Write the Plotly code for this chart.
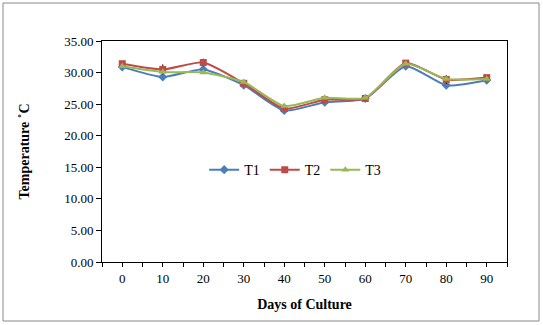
import plotly.graph_objects as go

days = [0, 10, 20, 30, 40, 50, 60, 70, 80, 90]
t1 = [30.9, 29.3, 30.5, 28.0, 24.0, 25.3, 25.9, 31.0, 28.0, 28.8]
t2 = [31.4, 30.5, 31.6, 28.3, 24.3, 25.7, 25.9, 31.5, 28.9, 29.2]
t3 = [31.0, 30.1, 30.0, 28.5, 24.7, 26.0, 26.0, 31.4, 29.0, 29.0]
t2_err = [0.3, 0.8, 0.6, 0.3, 0.2, 0.3, 0.1, 0.2, 0.7, 0.2]

tick_vals = [-5 + 5 * i for i in range(21)]
tick_text = [str(v) if v in days else "" for v in tick_vals]

W, H = 543, 325
L, R, T, B = 102, 36, 41, 63
pw, ph = W - L - R, H - T - B
FONT = "Liberation Serif, Times New Roman, serif"

fig = go.Figure()
fig.add_trace(go.Scatter(x=days, y=t1, name="T1", mode="lines+markers",
                         line=dict(color="#4A7EBB", width=2, shape="spline", smoothing=0.6),
                         marker=dict(symbol="diamond", size=7, color="#4A7EBB")))
fig.add_trace(go.Scatter(x=days, y=t2, name="T2", mode="lines+markers",
                         line=dict(color="#BE4B48", width=2, shape="spline", smoothing=0.6),
                         marker=dict(symbol="square", size=7, color="#BE4B48"),
                         error_y=dict(type="data", array=t2_err, color="black", thickness=1, width=0)))
fig.add_trace(go.Scatter(x=days, y=t3, name="T3", mode="lines+markers",
                         line=dict(color="#98B954", width=2, shape="spline", smoothing=0.6),
                         marker=dict(symbol="triangle-up", size=7, color="#98B954")))

fig.update_layout(
    width=W, height=H,
    margin=dict(l=L, r=R, t=T, b=B),
    paper_bgcolor="white", plot_bgcolor="white",
    font=dict(family=FONT, size=13, color="black"),
    showlegend=True,
    legend=dict(orientation="h", x=0.477, y=0.416, xanchor="center", yanchor="middle",
                bgcolor="rgba(0,0,0,0)", font=dict(size=14, family=FONT),
                itemwidth=30),
    xaxis=dict(range=[-5, 95], tickmode="array", tickvals=tick_vals, ticktext=tick_text,
               ticks="outside", ticklen=4,
               tickcolor="black", showline=True, linecolor="black", linewidth=1,
               mirror=True, showgrid=False, zeroline=False,
               title=dict(text="<b>Days of Culture</b>", font=dict(size=14, family=FONT), standoff=14),
               tickfont=dict(size=13, family=FONT)),
    yaxis=dict(range=[0, 35], dtick=5, tickformat=".2f", ticks="outside", ticklen=5,
               tickcolor="black", showline=True, linecolor="black", linewidth=1,
               mirror=True, showgrid=False, zeroline=False,
               title=dict(text="<b>Temperature ˚C</b>", font=dict(size=14, family=FONT), standoff=31),
               tickfont=dict(size=13, family=FONT)),
    shapes=[dict(type="rect", xref="paper", yref="paper",
                 x0=(3 - L) / pw, x1=(539 - L) / pw,
                 y0=(H - B - 321) / ph, y1=(H - B - 3) / ph,
                 line=dict(color="#888888", width=1), fillcolor="rgba(0,0,0,0)")],
)

fig.write_html("out.html")
